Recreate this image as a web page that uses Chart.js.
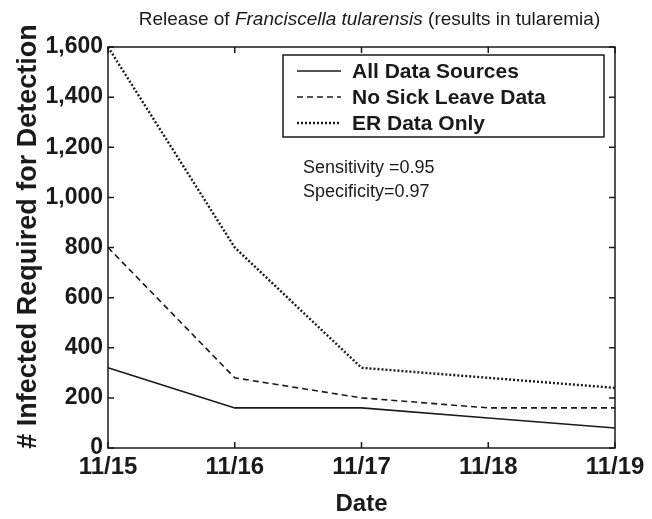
<!DOCTYPE html>
<html lang="en">
<head>
<meta charset="UTF-8">
<title>Release of Franciscella tularensis</title>
<script src="https://cdn.jsdelivr.net/npm/chart.js"></script>
<style>
    html, body { margin: 0; padding: 0; background: #fff; }
    #wrap { width: 652px; height: 519px; position: relative; }
</style>
</head>
<body>
<div id="wrap"><canvas id="chart"></canvas></div>
<script>
    // data
    const dates = ['11/15', '11/16', '11/17', '11/18', '11/19'];
    const allSources = [320, 160, 160, 120, 80];
    const noSickLeave = [800, 280, 200, 160, 160];
    const erOnly = [1600, 800, 320, 280, 240];
    const seriesNames = ['All Data Sources', 'No Sick Leave Data', 'ER Data Only'];
    const statLines = ['Sensitivity =0.95', 'Specificity=0.97'];
    const yTitle = '# Infected Required for Detection';

    const ink = '#1a1a1a';
    const sans = "'Liberation Sans', Arial, sans-serif";

    // title with the italic species name, plus the rotated y title
    const titlePlugin = {
        id: 'mixedTitle',
        afterDraw(chart) {
            const ctx = chart.ctx;
            const parts = [
                ['Release of ', 'normal'],
                ['Franciscella tularensis', 'italic'],
                [' (results in tularemia)', 'normal']
            ];
            ctx.save();
            ctx.fillStyle = ink;
            ctx.textBaseline = 'middle';
            let total = 0;
            parts.forEach(p => {
                ctx.font = p[1] + ' 19px ' + sans;
                total += ctx.measureText(p[0]).width;
            });
            const a = chart.chartArea;
            let x = (a.left + a.right) / 2 - total / 2 + 8;
            parts.forEach(p => {
                ctx.font = p[1] + ' 19px ' + sans;
                ctx.fillText(p[0], x, 20);
                x += ctx.measureText(p[0]).width;
            });

            ctx.translate(29, (a.top + a.bottom) / 2 - 11);
            ctx.rotate(-Math.PI / 2);
            ctx.font = 'bold 27px ' + sans;
            ctx.textAlign = 'center';
            ctx.fillText(yTitle, 0, 0);
            ctx.restore();
        }
    };

    // box round the plot with ticks pointing inward
    const framePlugin = {
        id: 'frame',
        afterDatasetsDraw(chart) {
            const ctx = chart.ctx;
            const a = chart.chartArea;
            const xs = chart.scales.x, ys = chart.scales.y;
            const len = 6;
            ctx.save();
            ctx.strokeStyle = ink;
            ctx.lineWidth = 1.5;
            ctx.strokeRect(a.left, a.top, a.right - a.left, a.bottom - a.top);
            ctx.beginPath();
            ys.ticks.forEach(t => {
                const y = ys.getPixelForValue(t.value);
                ctx.moveTo(a.left, y); ctx.lineTo(a.left + len, y);
                ctx.moveTo(a.right, y); ctx.lineTo(a.right - len, y);
            });
            xs.ticks.forEach((t, i) => {
                const x = xs.getPixelForTick(i);
                ctx.moveTo(x, a.bottom); ctx.lineTo(x, a.bottom - len);
                ctx.moveTo(x, a.top); ctx.lineTo(x, a.top + len);
            });
            ctx.stroke();
            ctx.restore();
        }
    };

    // boxed legend and the sensitivity note
    const legendPlugin = {
        id: 'boxLegend',
        afterDraw(chart) {
            const ctx = chart.ctx;
            const a = chart.chartArea;
            const bx = a.left + 175, by = a.top + 8, bw = 321, bh = 82;
            ctx.save();
            ctx.fillStyle = '#fff';
            ctx.fillRect(bx, by, bw, bh);
            ctx.strokeStyle = ink;
            ctx.lineWidth = 1.5;
            ctx.strokeRect(bx, by, bw, bh);
            chart.data.datasets.forEach((ds, i) => {
                const y = by + 16 + i * 26;
                ctx.beginPath();
                ctx.setLineDash(ds.borderDash || []);
                ctx.lineWidth = ds.borderWidth;
                ctx.strokeStyle = ds.borderColor;
                ctx.moveTo(bx + 14, y);
                ctx.lineTo(bx + 58, y);
                ctx.stroke();
                ctx.setLineDash([]);
                ctx.fillStyle = ink;
                ctx.font = 'bold 21px ' + sans;
                ctx.textBaseline = 'middle';
                ctx.fillText(ds.label, bx + 69, y + 1);
            });
            ctx.font = '18px ' + sans;
            ctx.textBaseline = 'middle';
            statLines.forEach((s, i) => {
                ctx.fillText(s, bx + 20, by + 113 + i * 24);
            });
            ctx.restore();
        }
    };

    new Chart(document.getElementById('chart'), {
        type: 'line',
        data: {
            labels: dates,
            datasets: [
                { label: seriesNames[0], data: allSources, borderColor: ink, borderWidth: 1.6, borderDash: [] },
                { label: seriesNames[1], data: noSickLeave, borderColor: ink, borderWidth: 1.6, borderDash: [6, 4] },
                { label: seriesNames[2], data: erOnly, borderColor: ink, borderWidth: 2.4, borderDash: [2, 2] }
            ]
        },
        options: {
            responsive: true,
            maintainAspectRatio: false,
            animation: false,
            layout: { padding: { top: 47, right: 37, left: 4, bottom: 0 } },
            elements: { point: { radius: 0 }, line: { tension: 0, fill: false } },
            plugins: {
                legend: { display: false },
                title: { display: false },
                tooltip: { enabled: false }
            },
            scales: {
                x: {
                    type: 'category',
                    offset: false,
                    grid: { display: false, drawTicks: false, offset: false },
                    border: { display: false },
                    ticks: {
                        color: ink,
                        padding: 5,
                        maxRotation: 0,
                        autoSkip: false,
                        font: { family: sans, size: 24, weight: 'bold' }
                    },
                    title: {
                        display: true,
                        text: 'Date',
                        color: ink,
                        padding: { top: 0, bottom: 0 },
                        font: { family: sans, size: 24, weight: 'bold' }
                    },
                    afterFit(s) { s.height = 71; }
                },
                y: {
                    min: 0,
                    max: 1600,
                    grid: { display: false, drawTicks: false },
                    border: { display: false },
                    ticks: {
                        stepSize: 200,
                        color: ink,
                        padding: 5,
                        font: { family: sans, size: 23, weight: 'bold' },
                        callback: v => v.toLocaleString('en-US')
                    },
                    afterFit(s) { s.width = 104; }
                }
            }
        },
        plugins: [titlePlugin, framePlugin, legendPlugin]
    });
</script>
</body>
</html>
